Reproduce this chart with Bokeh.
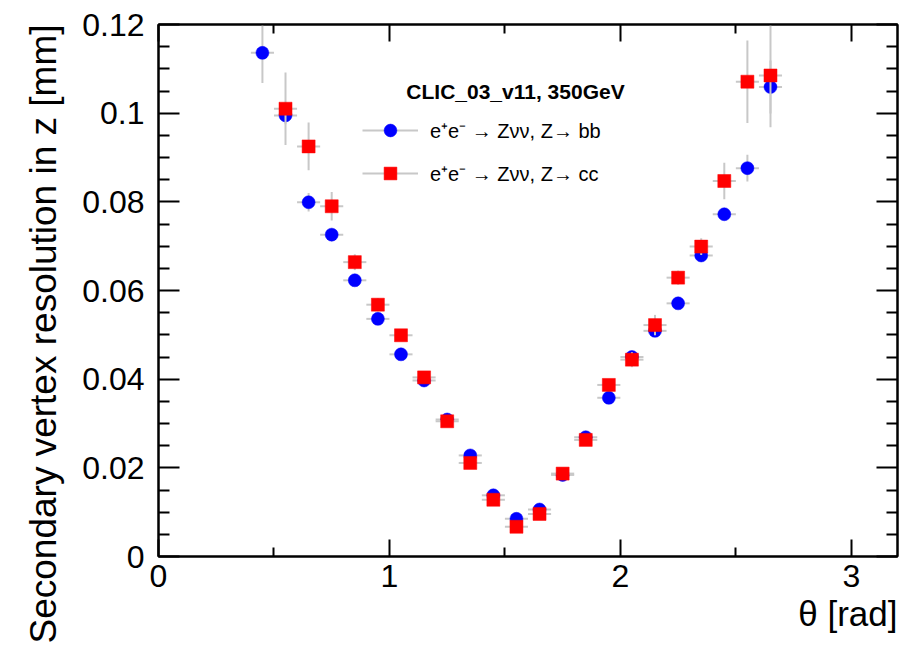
import numpy as np
from bokeh.plotting import figure
from bokeh.models import (ColumnDataSource, LinearAxis, FixedTicker, NumeralTickFormatter,
                          Label, Legend, LegendItem, Range1d, Title)
from bokeh.embed import file_html
from bokeh.resources import INLINE

# ---------------- data ----------------
theta_bb = [0.45, 0.55, 0.65, 0.75, 0.85, 0.95, 1.05, 1.15, 1.25, 1.35, 1.45, 1.55,
            1.65, 1.75, 1.85, 1.95, 2.05, 2.15, 2.25, 2.35, 2.45, 2.55, 2.65]
res_bb = [0.1136, 0.0995, 0.0799, 0.0726, 0.0623, 0.0536, 0.0456, 0.0397, 0.0309, 0.0228,
          0.0138, 0.0085, 0.0106, 0.0184, 0.0269, 0.0358, 0.0450, 0.0509, 0.0571, 0.0679,
          0.0772, 0.0876, 0.1059]
err_bb = [0.0068, 0.0020, 0.0021, 0.0015, 0.0012, 0.0010, 0.0010, 0.0010, 0.0010, 0.0010,
          0.0010, 0.0008, 0.0008, 0.0008, 0.0010, 0.0010, 0.0010, 0.0010, 0.0010, 0.0012,
          0.0012, 0.0030, 0.0060]

theta_cc = [0.55, 0.65, 0.75, 0.85, 0.95, 1.05, 1.15, 1.25, 1.35, 1.45, 1.55,
            1.65, 1.75, 1.85, 1.95, 2.05, 2.15, 2.25, 2.35, 2.45, 2.55, 2.65]
res_cc = [0.1010, 0.0925, 0.0790, 0.0664, 0.0568, 0.0499, 0.0404, 0.0305, 0.0211, 0.0128,
          0.0067, 0.0096, 0.0187, 0.0263, 0.0387, 0.0444, 0.0522, 0.0629, 0.0699, 0.0847,
          0.1071, 0.1085]
err_cc = [0.0082, 0.0054, 0.0032, 0.0018, 0.0015, 0.0013, 0.0012, 0.0010, 0.0010, 0.0010,
          0.0010, 0.0010, 0.0010, 0.0010, 0.0012, 0.0017, 0.0023, 0.0016, 0.0019, 0.0041,
          0.0093, 0.0117]

theta_half_width = 0.05

x_major_ticks = [0, 1, 2, 3]
x_minor_ticks = [0.5, 1.5, 2.5]
y_major_ticks = [0, 0.02, 0.04, 0.06, 0.08, 0.1, 0.12]
y_minor_ticks = [0.005, 0.01, 0.015, 0.025, 0.03, 0.035, 0.045, 0.05, 0.055,
                 0.065, 0.07, 0.075, 0.085, 0.09, 0.095, 0.105, 0.11, 0.115]

label_bb = "e\u207ae\u207b \u2192 Z\u03bd\u03bd, Z\u2192 bb"
label_cc = "e\u207ae\u207b \u2192 Z\u03bd\u03bd, Z\u2192 cc"
title_text = "CLIC_03_v11, 350GeV"
x_title = "\u03b8 [rad]"
y_title = "Secondary vertex resolution in z [mm]"

FONT = "Liberation Sans"
ERR_COLOR = "#c8c8c8"

# ---------------- figure ----------------
p = figure(width=908, height=649, x_range=Range1d(0, 3.2), y_range=Range1d(0, 0.12),
           output_backend="svg", toolbar_location=None,
           min_border_left=158, min_border_right=11, min_border_top=24, min_border_bottom=93)
p.xgrid.visible = False
p.ygrid.visible = False
p.outline_line_color = "black"
p.outline_line_width = 2
p.background_fill_color = "white"
p.border_fill_color = "white"


def style_axis(ax, major, minor, fmt, tick_major, tick_minor, show_labels, standoff):
    ax.ticker = FixedTicker(ticks=major, minor_ticks=minor)
    ax.formatter = NumeralTickFormatter(format=fmt)
    ax.major_tick_in = tick_major
    ax.major_tick_out = 0
    ax.minor_tick_in = tick_minor
    ax.minor_tick_out = 0
    ax.axis_line_width = 2
    ax.axis_line_color = "black"
    ax.major_tick_line_width = 2
    ax.minor_tick_line_width = 2
    ax.major_tick_line_color = "black"
    ax.minor_tick_line_color = "black"
    ax.major_label_text_font = FONT
    if show_labels:
        ax.major_label_text_color = "black"
        ax.major_label_text_font_size = "32px"
        ax.major_label_standoff = standoff
    else:
        ax.major_label_text_color = None
        ax.major_label_text_alpha = 0
        ax.major_label_text_font_size = "0px"
        ax.major_label_standoff = 0


style_axis(p.xaxis[0], x_major_ticks, x_minor_ticks, "0", 17, 9, True, 8)
style_axis(p.yaxis[0], y_major_ticks, y_minor_ticks, "0.[00]", 21, 11, True, 14)

top_axis = LinearAxis()
style_axis(top_axis, x_major_ticks, x_minor_ticks, "0", 17, 9, False, 0)
p.add_layout(top_axis, "above")
right_axis = LinearAxis()
style_axis(right_axis, y_major_ticks, y_minor_ticks, "0.[00]", 21, 11, False, 0)
p.add_layout(right_axis, "right")


def error_source(theta, res, err):
    t = np.asarray(theta, dtype=float)
    r = np.asarray(res, dtype=float)
    e = np.asarray(err, dtype=float)
    x0 = np.concatenate([t - theta_half_width, t])
    x1 = np.concatenate([t + theta_half_width, t])
    y0 = np.concatenate([r, r - e])
    y1 = np.concatenate([r, r + e])
    return ColumnDataSource(dict(x0=x0, x1=x1, y0=y0, y1=y1))


src_bb = ColumnDataSource(dict(x=theta_bb, y=res_bb))
src_cc = ColumnDataSource(dict(x=theta_cc, y=res_cc))

err_bb_r = p.segment("x0", "y0", "x1", "y1", source=error_source(theta_bb, res_bb, err_bb),
                     line_color=ERR_COLOR, line_width=2)
pts_bb_r = p.scatter("x", "y", source=src_bb, marker="circle", size=13,
                     fill_color="#0000ff", line_color="#0000ff", line_width=0.5)
err_cc_r = p.segment("x0", "y0", "x1", "y1", source=error_source(theta_cc, res_cc, err_cc),
                     line_color=ERR_COLOR, line_width=2)
pts_cc_r = p.scatter("x", "y", source=src_cc, marker="square", size=13,
                     fill_color="#ff0000", line_color="#ff0000", line_width=0.5)

legend = Legend(items=[LegendItem(label=label_bb, renderers=[err_bb_r, pts_bb_r]),
                       LegendItem(label=label_cc, renderers=[err_cc_r, pts_cc_r])],
                location=(204, 367), glyph_width=56, glyph_height=32, label_height=32,
                spacing=11, padding=0, margin=0, label_standoff=12,
                background_fill_alpha=0, border_line_alpha=0,
                label_text_font=FONT, label_text_font_size="20px", label_text_color="black")
p.add_layout(legend)

p.add_layout(Label(x=357, y=465, x_units="screen", y_units="screen", text=title_text,
                   text_font=FONT, text_font_style="bold", text_font_size="21px",
                   text_align="center", text_baseline="alphabetic", text_color="black"))

p.add_layout(Title(text=x_title, align="right", text_font=FONT, text_font_size="35px",
                   text_font_style="normal", text_color="black", standoff=4), "below")
p.add_layout(Title(text=y_title, align="right", text_font=FONT, text_font_size="37px",
                   text_font_style="normal", text_color="black", standoff=32), "left")

open("out.html", "w").write(file_html(p, INLINE))
